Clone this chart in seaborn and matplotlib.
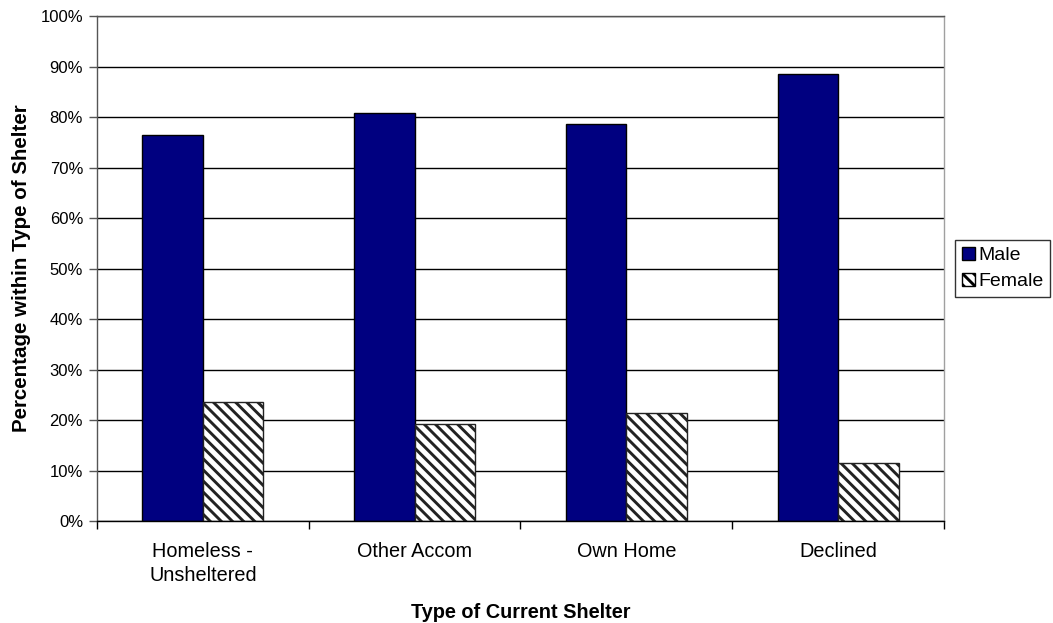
import matplotlib
matplotlib.use("Agg")
import matplotlib.pyplot as plt
import seaborn as sns
import pandas as pd
from matplotlib.patches import Patch
from matplotlib.ticker import PercentFormatter, FixedLocator

# Shelter type categories and gender split (% within each shelter type)
categories = ["Homeless -\nUnsheltered", "Other Accom", "Own Home", "Declined"]
male = [76.5, 80.7, 78.6, 88.5]
female = [23.5, 19.3, 21.4, 11.5]
genders = ["Male", "Female"]

df = pd.DataFrame({
    "shelter": categories * 2,
    "gender": [genders[0]] * len(categories) + [genders[1]] * len(categories),
    "pct": male + female,
})

sns.set_theme(style="white")
plt.rcParams["font.family"] = ["Liberation Sans", "DejaVu Sans"]
plt.rcParams.update({
    "text.color": "black",
    "axes.labelcolor": "black",
    "xtick.color": "black",
    "ytick.color": "black",
    "hatch.linewidth": 2.1,
    "hatch.color": "#585858",
})

HATCH = "\\\\\\"

fig = plt.figure(figsize=(10.53, 6.23), dpi=100)
ax = fig.add_axes([0.0921, 0.1637, 0.8044, 0.8106])

sns.barplot(data=df, x="shelter", y="pct", hue="gender",
            palette=["#000080", "white"], width=0.572, gap=0,
            edgecolor="black", linewidth=1.0, saturation=1,
            legend=False, ax=ax)

# hatch the female bars
for bar in ax.containers[1]:
    bar.set_hatch(HATCH)
    bar.set_edgecolor("#222222")

ax.set_ylim(0, 100)
ax.set_xlim(-0.5, len(categories) - 0.5)
ax.yaxis.set_major_locator(FixedLocator(range(0, 101, 10)))
ax.yaxis.set_major_formatter(PercentFormatter(decimals=0))
ax.yaxis.grid(True, color="black", linewidth=1.0)
ax.set_axisbelow(True)

# category boundary ticks on the x-axis
ax.set_xticks(range(len(categories)))
ax.set_xticklabels(categories, fontsize=14.3, color="black", linespacing=1.35)
ax.tick_params(axis="x", which="major", length=0, pad=15)
ax.set_xticks([i - 0.5 for i in range(len(categories) + 1)], minor=True)
ax.tick_params(axis="x", which="minor", length=6, width=1, color="black",
               direction="out", bottom=True)
ax.tick_params(axis="y", length=6, width=1, color="#555555", direction="out",
               left=True, labelsize=12, labelcolor="black", pad=4)

for side, col in [("left", "#555555"), ("bottom", "black"),
                  ("right", "#a0a0a0"), ("top", "#555555")]:
    ax.spines[side].set_visible(True)
    ax.spines[side].set_color(col)
    ax.spines[side].set_linewidth(1.0)

ax.set_xlabel("Type of Current Shelter", fontsize=14.3, fontweight="bold",
              labelpad=13)
ax.set_ylabel("Percentage within Type of Shelter", fontsize=14.8,
              fontweight="bold", labelpad=7)

# legend outside on the right
handles = [Patch(facecolor="#000080", edgecolor="black", label="Male"),
           Patch(facecolor="white", edgecolor="black", hatch=HATCH,
                 label="Female")]
leg = ax.legend(handles=handles, loc="center left",
                bbox_to_anchor=(1.013, 0.5), frameon=True, fancybox=False,
                edgecolor="black", fontsize=14, handlelength=0.7,
                handleheight=0.7, handletextpad=0.15, borderpad=0.35,
                labelspacing=0.45, borderaxespad=0)
leg.get_frame().set_linewidth(1.0)

fig.savefig("out.png", dpi=100)
